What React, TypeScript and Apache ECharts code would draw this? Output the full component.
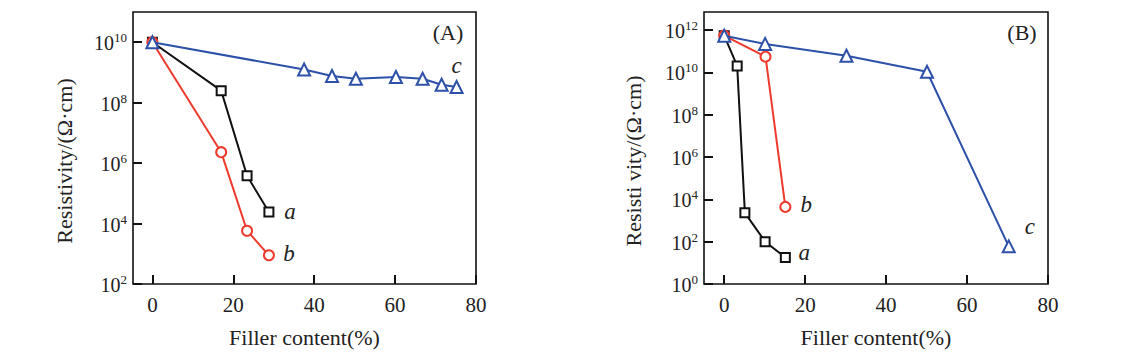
import React, { useEffect, useRef } from 'react';
import * as echarts from 'echarts';

// Panel (A)
const xA_a = [0, 17, 23.4, 28.8];
const yA_a = [1e10, 2.5e8, 3.8e5, 2.4e4];
const xA_b = [0, 17, 23.4, 28.8];
const yA_b = [1e10, 2.3e6, 5.8e3, 8.9e2];
const xA_c = [0, 37.5, 44.4, 50.3, 60.2, 66.8, 71.5, 75.2];
const yA_c = [1e10, 1.25e9, 7.6e8, 6.2e8, 7.1e8, 6.2e8, 3.9e8, 3.3e8];

// Panel (B)
const xB_a = [0, 3.2, 5.1, 10.1, 15.1];
const yB_a = [5.4e11, 2e10, 2.3e3, 1e2, 18];
const xB_b = [0, 10.2, 15.1];
const yB_b = [5.4e11, 5.5e10, 4.4e3];
const xB_c = [0, 10.1, 30.2, 50.1, 70.3];
const yB_c = [5.4e11, 2.2e11, 6.1e10, 1.07e10, 60];

const xTicks = [0, 20, 40, 60, 80];
const yTicksA = [1e2, 1e4, 1e6, 1e8, 1e10];
const yTicksB = [1e0, 1e2, 1e4, 1e6, 1e8, 1e10, 1e12];
const seriesNames = ['a', 'b', 'c'];
const panelNames = ['(A)', '(B)'];
const xName = 'Filler content(%)';
const yNameA = 'Resistivity/(Ω·cm)';
const yNameB = 'Resisti vity/(Ω·cm)';

const FONT = 'Liberation Serif';
const BLACK = '#111111';
const RED = '#ee3a2c';
const BLUE = '#2d50a8';

export default function App() {
  const ref = useRef<HTMLDivElement>(null);
  useEffect(() => {
    if (!ref.current) return;
    const chart = echarts.init(ref.current, undefined, { renderer: 'svg' });

    const xAxisBase = (gridIndex: number, min: number) => ({
      type: 'value',
      gridIndex,
      min,
      max: 80,
      axisLine: { show: false, onZero: false },
      splitLine: { show: false },
      axisTick: {
        show: true,
        inside: true,
        length: 9,
        customValues: xTicks,
        lineStyle: { color: '#111', width: 2 },
      },
      axisLabel: {
        customValues: xTicks,
        fontFamily: FONT,
        fontSize: 21,
        color: '#222',
        margin: 10,
      },
      name: xName,
      nameLocation: 'middle',
      nameGap: 42,
      nameTextStyle: { fontFamily: FONT, fontSize: 22, color: '#222' },
    });

    const yAxisBase = (gridIndex: number, min: number, max: number, ticks: number[], name: string, gap: number) => ({
      type: 'log',
      logBase: 10,
      gridIndex,
      min,
      max,
      axisLine: { show: false, onZero: false },
      splitLine: { show: false },
      minorTick: { show: false },
      axisTick: {
        show: true,
        inside: true,
        length: 9,
        customValues: ticks,
        lineStyle: { color: '#111', width: 2 },
      },
      axisLabel: {
        customValues: ticks,
        margin: 6,
        formatter: (v: number) => `{b|10}{s|${Math.round(Math.log10(v))}}`,
        rich: {
          b: { fontFamily: FONT, fontSize: 20, color: '#222', lineHeight: 22, verticalAlign: 'bottom' },
          s: { fontFamily: FONT, fontSize: 13, color: '#222', lineHeight: 22, verticalAlign: 'top', padding: [0, 0, 8, 0] },
        },
      },
      name,
      nameLocation: 'middle',
      nameGap: gap,
      nameTextStyle: { fontFamily: FONT, fontSize: 22, color: '#222', padding: [0, 26, 0, 0] },
    });

    const mk = (
      name: string,
      xs: number[],
      ys: number[],
      idx: number,
      symbol: string,
      size: number,
      color: string,
      offset: number[],
    ) => ({
      type: 'line',
      name,
      xAxisIndex: idx,
      yAxisIndex: idx,
      symbol,
      symbolSize: size,
      showAllSymbol: true,
      lineStyle: { color, width: 2 },
      itemStyle: { color: '#fff', borderColor: color, borderWidth: 2 },
      z: symbol === 'triangle' ? 3 : 2,
      data: xs.map((x, i) =>
        i === xs.length - 1
          ? {
              value: [x, ys[i]],
              label: {
                show: true,
                formatter: name,
                position: 'inside',
                offset,
                fontFamily: FONT,
                fontStyle: 'italic',
                fontSize: 23,
                color: '#222',
              },
            }
          : [x, ys[i]],
      ),
    });

    chart.setOption({
      animation: false,
      backgroundColor: '#fff',
      grid: [
        { left: 133, top: 12, width: 343, height: 272, show: true, borderColor: '#111', borderWidth: 1.6, backgroundColor: 'transparent' },
        { left: 704, top: 12, width: 344, height: 272, show: true, borderColor: '#111', borderWidth: 1.6, backgroundColor: 'transparent' },
      ],
      xAxis: [xAxisBase(0, -4.8), xAxisBase(1, -5)],
      yAxis: [
        yAxisBase(0, 1e2, 1e11, yTicksA, yNameA, 58),
        yAxisBase(1, 1e0, Math.pow(10, 12.85), yTicksB, yNameB, 60),
      ],
      graphic: [
        { type: 'text', x: 448, y: 32, style: { text: panelNames[0], fontFamily: FONT, fontSize: 22, fill: '#222', align: 'center', verticalAlign: 'middle' } },
        { type: 'text', x: 1022, y: 32, style: { text: panelNames[1], fontFamily: FONT, fontSize: 22, fill: '#222', align: 'center', verticalAlign: 'middle' } },
      ],
      series: [
        mk(seriesNames[2], xA_c, yA_c, 0, 'triangle', 12, BLUE, [0, -21]),
        mk(seriesNames[0], xA_a, yA_a, 0, 'rect', 9, BLACK, [21, -1]),
        mk(seriesNames[1], xA_b, yA_b, 0, 'circle', 10, RED, [20, -2]),
        mk(seriesNames[0], xB_a, yB_a, 1, 'rect', 9, BLACK, [19, -5]),
        mk(seriesNames[1], xB_b, yB_b, 1, 'circle', 10, RED, [21, -2]),
        mk(seriesNames[2], xB_c, yB_c, 1, 'triangle', 12, BLUE, [21, -20]),
      ],
    });
    return () => chart.dispose();
  }, []);
  return <div ref={ref} style={{ position: 'fixed', left: 0, top: 0, width: 1147, height: 360 }} />;
}
